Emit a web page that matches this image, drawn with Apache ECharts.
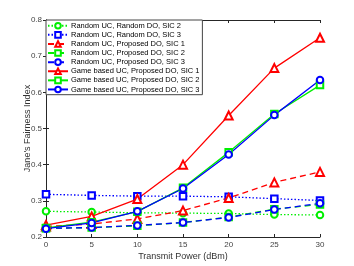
<!DOCTYPE html>
<html><head><meta charset="utf-8">
<script src="https://cdn.jsdelivr.net/npm/echarts@6/dist/echarts.min.js"></script>
<style>html,body{margin:0;padding:0;background:#fff}#c{width:354px;height:266px}</style>
</head><body><div id="c"></div>
<script>
const power = [0, 5, 10, 15, 20, 25, 30];
const xTicks = [0, 5, 10, 15, 20, 25, 30];
const yTicks = [0.2, 0.3, 0.4, 0.5, 0.6, 0.7, 0.8];
const rrSic2 = [0.271, 0.269, 0.267, 0.266, 0.265, 0.262, 0.261];
const rrSic3 = [0.318, 0.315, 0.313, 0.313, 0.311, 0.306, 0.301];
const rpSic1 = [0.229, 0.236, 0.250, 0.273, 0.308, 0.351, 0.380];
const rpSic2 = [0.224, 0.226, 0.231, 0.240, 0.255, 0.277, 0.290];
const rpSic3 = [0.224, 0.226, 0.232, 0.240, 0.254, 0.276, 0.293];
const gpSic1 = [0.233, 0.257, 0.305, 0.400, 0.536, 0.667, 0.751];
const gpSic2 = [0.225, 0.241, 0.270, 0.336, 0.434, 0.540, 0.620];
const gpSic3 = [0.223, 0.239, 0.271, 0.334, 0.428, 0.537, 0.634];
const names = [
  'Random UC, Random DO, SIC 2',
  'Random UC, Random DO, SIC 3',
  'Random UC, Proposed DO, SIC 1',
  'Random UC, Proposed DO, SIC 2',
  'Random UC, Proposed DO, SIC 3',
  'Game based UC, Proposed DO, SIC 1',
  'Game based UC, Proposed DO, SIC 2',
  'Game based UC, Proposed DO, SIC 3'
];
const RED = '#ff0000', GREEN = '#00ee00', BLUE = '#0000ff';
function mk(name, data, color, type, symbol) {
  return {
    name, type: 'line', data: power.map((p, i) => [p, data[i]]),
    symbol, symbolSize: symbol === 'emptyTriangle' ? 8 : 6.5,
    showSymbol: true,
    lineStyle: { color, width: 1.3, type },
    itemStyle: { color, borderColor: color, borderWidth: 1.3 },
    z: 3
  };
}
const series = [
  mk(names[0], rrSic2, GREEN, [1.5, 2], 'emptyCircle'),
  mk(names[1], rrSic3, BLUE, [1.5, 2], 'emptyRect'),
  mk(names[2], rpSic1, RED, [6, 4], 'emptyTriangle'),
  mk(names[3], rpSic2, GREEN, [6, 4], 'emptyRect'),
  mk(names[4], rpSic3, BLUE, [6, 4], 'emptyCircle'),
  mk(names[5], gpSic1, RED, 'solid', 'emptyTriangle'),
  mk(names[6], gpSic2, GREEN, 'solid', 'emptyRect'),
  mk(names[7], gpSic3, BLUE, 'solid', 'emptyCircle')
];
const axisCommon = {
  axisLine: { show: true, lineStyle: { color: '#262626', width: 1 } },
  axisTick: { show: true, inside: true, length: 3, lineStyle: { color: '#262626' } },
  splitLine: { show: false }
};
const chart = echarts.init(document.getElementById('c'));
chart.setOption({
  animation: false,
  textStyle: { fontFamily: 'Liberation Sans, Arial, sans-serif' },
  grid: { left: 46, right: 34, top: 20, bottom: 28.5, containLabel: false },
  legend: {
    data: names, orient: 'vertical', left: 46, top: 20,
    itemWidth: 20, itemHeight: 7, itemGap: 0.6,
    padding: [1.5, 3, 1, 1],
    backgroundColor: '#fff', borderColor: '#444', borderWidth: 1, borderRadius: 0,
    textStyle: { fontSize: 7.5, lineHeight: 8.5, height: 8.5, color: '#000', padding: [0, 0, 0, -2] },
    z: 10
  },
  xAxis: [
    Object.assign({ type: 'value', min: 0, max: 30, interval: 5,
      name: 'Transmit Power (dBm)', nameLocation: 'middle', nameGap: 15,
      nameMoveOverlap: false,
      nameTextStyle: { fontSize: 9, color: '#333' },
      axisLabel: { fontSize: 8, color: '#444', margin: 4,
        formatter: v => xTicks.includes(v) ? String(v) : '' } }, axisCommon),
    Object.assign({ type: 'value', min: 0, max: 30, interval: 5, position: 'top',
      axisLabel: { show: false } }, axisCommon)
  ],
  yAxis: [
    Object.assign({ type: 'value', min: 0.2, max: 0.8, interval: 0.1,
      name: "Jane's Fairness Index", nameLocation: 'middle', nameGap: 14,
      nameMoveOverlap: false,
      nameTextStyle: { fontSize: 9, color: '#333' },
      axisLabel: { fontSize: 8, color: '#444', margin: 4,
        formatter: v => { const t = yTicks.find(y => Math.abs(y - v) < 1e-6); return t !== undefined ? t.toFixed(1) : ''; } } }, axisCommon),
    Object.assign({ type: 'value', min: 0.2, max: 0.8, interval: 0.1, position: 'right',
      axisLabel: { show: false } }, axisCommon)
  ],
  series
});
</script></body></html>
